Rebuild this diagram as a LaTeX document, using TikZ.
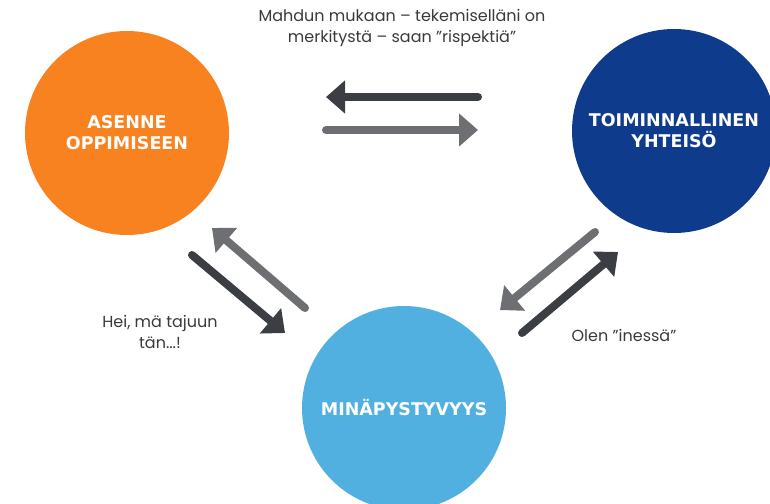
\documentclass[tikz,border=0pt]{standalone}
\usepackage{fontspec}
\setmainfont{Poppins}
\newfontfamily\ballfont{DejaVu Sans}
\usetikzlibrary{arrows.meta}
\tikzset{>={Triangle[length=19pt,width=32pt]}}
\definecolor{asenneorange}{HTML}{F7821F}
\definecolor{yhteisoblue}{HTML}{0F3B8C}
\definecolor{minablue}{HTML}{52B0E1}
\definecolor{darkarrow}{HTML}{3B3E43}
\definecolor{lightarrow}{HTML}{6E6F72}
\definecolor{labelgray}{HTML}{3A3A3A}

\begin{document}
\begin{tikzpicture}[x=1pt, y=-1pt,
	ball/.style={circle, inner sep=0pt, minimum size=204pt, text=white, align=center, font=\ballfont\bfseries\fontsize{17.5}{21}\selectfont},
	darkarr/.style={->, line width=8pt, line cap=round, darkarrow},
	lightarr/.style={->, line width=8pt, line cap=round, lightarrow},
	caption/.style={text=labelgray, align=center, font=\fontsize{16}{21}\selectfont}]
	\useasboundingbox (0,0) rectangle (770,503);
	% circles
	\node [ball, fill=asenneorange] (asenne) at (127,133) {ASENNE\\OPPIMISEEN};
	\node [ball, fill=yhteisoblue] (yhteiso) at (674,131) {TOIMINNALLINEN\\YHTEISÖ};
	\node [ball, fill=minablue] (mina) at (404,408) {MINÄPYSTYVYYS};
	% arrow ends
	\coordinate (ya1) at (478,97);  \coordinate (ya2) at (326,97);
	\coordinate (ay1) at (326,130); \coordinate (ay2) at (478,130);
	\coordinate (ma1) at (305,308); \coordinate (ma2) at (212,228);
	\coordinate (am1) at (192,255); \coordinate (am2) at (285,333);
	\coordinate (ym1) at (595,232); \coordinate (ym2) at (500,310);
	\coordinate (my1) at (522,333); \coordinate (my2) at (618,252);
	\draw [darkarr] (ya1) -- (ya2);
	\draw [lightarr] (ay1) -- (ay2);
	\draw [lightarr] (ma1) -- (ma2);
	\draw [darkarr] (am1) -- (am2);
	\draw [lightarr] (ym1) -- (ym2);
	\draw [darkarr] (my1) -- (my2);
	% texts
	\node [caption] (ylateksti) at (402,28) {Mahdun mukaan – tekemiselläni on\\merkitystä – saan "rispektiä"};
	\node [caption] (vasenteksti) at (160,332) {Hei, mä tajuun\\tän...!};
	\node [caption] (oikeateksti) at (624,335) {Olen "inessä"};
\end{tikzpicture}
\end{document}
